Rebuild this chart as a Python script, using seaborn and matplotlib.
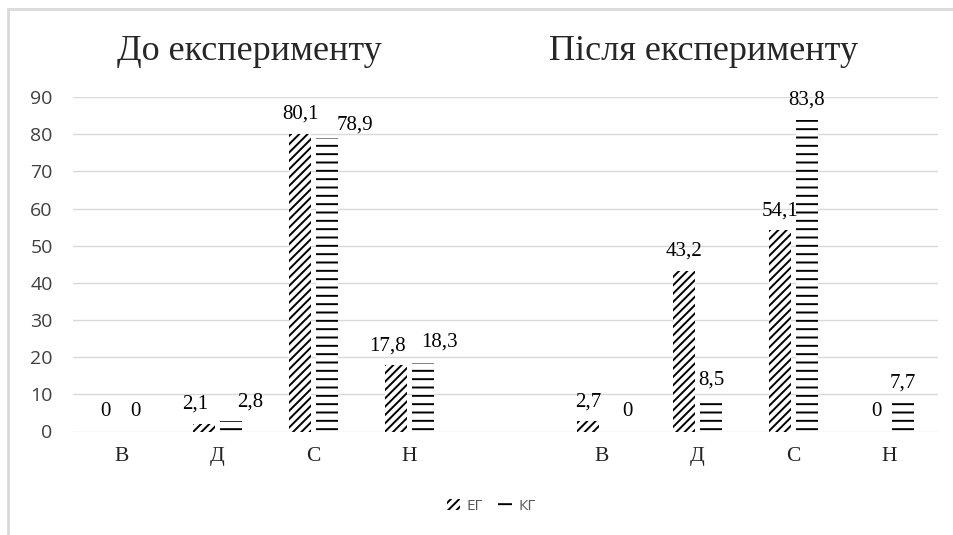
import matplotlib
matplotlib.use('Agg')
import pandas as pd
import matplotlib.pyplot as plt
from matplotlib.patches import Patch, Rectangle
import seaborn as sns

# Рівні та відсотки (до / після експерименту)
levels = ['В', 'Д', 'С', 'Н']
groups = ['ЕГ', 'КГ']
eg_before = [0, 2.1, 80.1, 17.8]
kg_before = [0, 2.8, 78.9, 18.3]
eg_after = [2.7, 43.2, 54.1, 0]
kg_after = [0, 8.5, 83.8, 7.7]
stage_titles = ['До експерименту', 'Після експерименту']
y_ticks = list(range(0, 100, 10))

# зсуви підписів (пікселі), як у вихідній діаграмі Excel
label_nudge = {
    ('before-В', 'ЕГ'): (-3, 0), ('before-Д', 'ЕГ'): (-9, 0),
    ('before-Н', 'ЕГ'): (-9, 0), ('before-Д', 'КГ'): (19, 0),
    ('before-С', 'КГ'): (28, -6), ('before-Н', 'КГ'): (17, 2),
    ('after-В', 'КГ'): (12, 0),
}

rows = []
for stage, eg, kg in [('before', eg_before, kg_before), ('after', eg_after, kg_after)]:
    for lvl, a, b in zip(levels, eg, kg):
        rows.append({'slot': f'{stage}-{lvl}', 'group': 'ЕГ', 'value': a})
        rows.append({'slot': f'{stage}-{lvl}', 'group': 'КГ', 'value': b})
df = pd.DataFrame(rows)
order = [f'before-{l}' for l in levels] + ['gap'] + [f'after-{l}' for l in levels]

sns.set_style('white')
plt.rcParams['font.family'] = ['Liberation Serif', 'DejaVu Serif']
plt.rcParams['hatch.linewidth'] = 1.4

fig = plt.figure(figsize=(9.54, 5.35), dpi=100)
ax = fig.add_axes([73.5 / 954, 1 - 431.5 / 535, (937.5 - 73.5) / 954, (431.5 - 97) / 535])

sns.barplot(data=df, x='slot', y='value', hue='group', order=order, hue_order=groups,
            palette=['white', 'white'], width=0.56, gap=0.18, edgecolor='black',
            linewidth=0, errorbar=None, legend=False, ax=ax)

hatches = {'ЕГ': '////', 'КГ': '--'}
for grp, cont in zip(groups, ax.containers):
    for bar in cont:
        bar.set_hatch(hatches[grp])
        h = bar.get_height()
        cx = bar.get_x() + bar.get_width() / 2
        slot = order[int(round(cx))]
        dx, dy = label_nudge.get((slot, grp), (0, 0))
        ax.annotate(f'{h:g}'.replace('.', ','), (cx, h), xytext=(dx, 15 + dy),
                    textcoords='offset pixels', ha='center', va='baseline',
                    fontsize=15, color='black')

ax.set_ylim(0, 90)
ax.set_xlim(-0.5, len(order) - 0.5)
ax.set_yticks(y_ticks)
ax.set_yticklabels([str(t) for t in y_ticks], family=['Open Sans', 'DejaVu Sans'],
                   fontsize=14, color='#404040')
ax.set_xticks(range(len(order)))
ax.set_xticklabels([s.split('-')[1] if '-' in s else '' for s in order],
                   fontsize=15.5, color='#222222')
ax.tick_params(axis='y', length=0, pad=15)
ax.tick_params(axis='x', length=0, pad=11)
ax.set_xlabel('')
ax.set_ylabel('')
ax.grid(axis='y', color='#d9d9d9', linewidth=1)
ax.set_axisbelow(True)
for sp in ax.spines.values():
    sp.set_visible(False)

fig.text(249 / 954, 1 - 60 / 535, stage_titles[0], ha='center', va='baseline', fontsize=26)
fig.text(704 / 954, 1 - 60 / 535, stage_titles[1], ha='center', va='baseline', fontsize=26)

handles = [Patch(facecolor='white', edgecolor='black', linewidth=0, hatch=hatches[g], label=g)
           for g in groups]
fig.legend(handles=handles, loc='center', bbox_to_anchor=(491 / 954, 1 - 506 / 535),
           ncol=2, frameon=False, handlelength=0.9, handleheight=0.7, handletextpad=0.4,
           columnspacing=1.0, labelcolor='#595959',
           prop={'family': ['Open Sans', 'DejaVu Sans'], 'size': 11})

# рамка області діаграми (видно лише лівий і верхній край)
fig.patches.append(Rectangle((8 / 954, -0.5), 2.0, 1.5 - 9 / 535, transform=fig.transFigure,
                             fill=False, edgecolor='#d9d9d9', linewidth=2))

fig.savefig('out.png', dpi=100)
